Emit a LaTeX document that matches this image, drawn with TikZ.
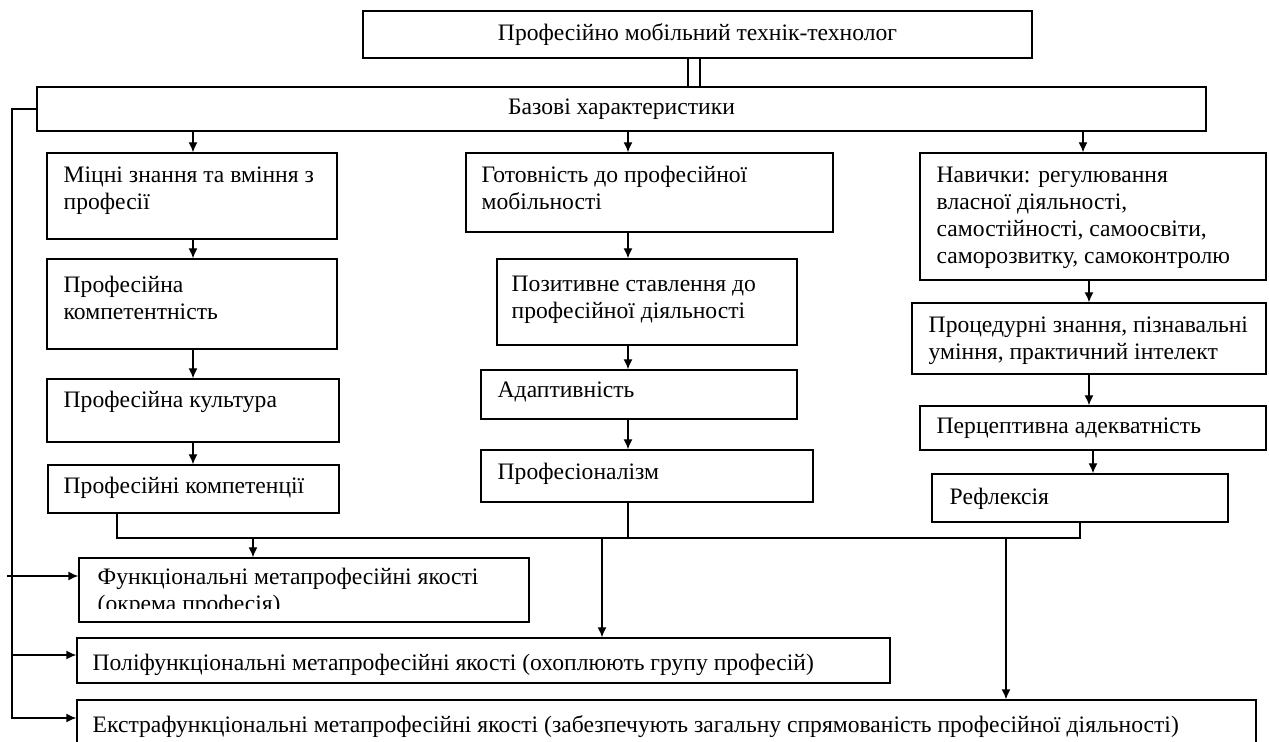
\documentclass[tikz,border=0pt]{standalone}
\usepackage{fontspec}
\setmainfont{Liberation Serif}
\usetikzlibrary{arrows.meta}
\begin{document}
\begin{tikzpicture}[x=0.5pt,y=-0.5pt,line width=0.7pt,
  font=\fontsize{11.8}{13.5}\selectfont,
  >={Latex[length=5pt,width=4.5pt]},
  box/.style={draw,rectangle,inner sep=0pt},
  txt/.style={anchor=base west,align=left,inner sep=0pt}]

\useasboundingbox[fill=white] (0,0) rectangle (1269,742);

\node[box,minimum width=334.5pt,minimum height=23.5pt] (top) at (697.5,34.5) {Професійно мобільний технік-технолог};
\node[box,minimum width=584.5pt,minimum height=22pt] (base) at (621.5,109) {Базові характеристики};

\draw [double,double distance=5.4pt] ([xshift=-1.75pt]top.south) -- ([xshift=-1.75pt]top.south |- base.north);

% first column
\node[box,minimum width=145pt,minimum height=43pt] (c1a) at (192,196) {};
\node[box,minimum width=145pt,minimum height=45pt] (c1b) at (192,304) {};
\node[box,minimum width=146pt,minimum height=31.5pt] (c1c) at (193,410.5) {};
\node[box,minimum width=145.5pt,minimum height=24pt] (c1d) at (193.5,489) {};

% (base of a text node = its last line)
\node[txt] (t1a) at (63,210) {Міцні знання та вміння з\\професії};
\node[txt] (t1b) at (63,320) {Професійна\\компетентність};
\node[txt] (t1c) at (63,408) {Професійна культура};
\node[txt] (t1d) at (63,494) {Професійні компетенції};

% second column
\node[box,minimum width=183.5pt,minimum height=39.5pt] (c2a) at (649.5,192.5) {};
\node[box,minimum width=150pt,minimum height=43pt] (c2b) at (647,302) {};
\node[box,minimum width=158pt,minimum height=24.5pt] (c2c) at (639,394.5) {};
\node[box,minimum width=166pt,minimum height=26pt] (c2d) at (647,476) {};

\node[txt] (t2a) at (481,210) {Готовність до професійної\\мобільності};
\node[txt] (t2b) at (511,319) {Позитивне ставлення до\\професійної діяльності};
\node[txt] (t2c) at (497,398) {Адаптивність};
\node[txt] (t2d) at (497,480) {Професіоналізм};

% third column
\node[box,minimum width=173pt,minimum height=63.5pt] (c3a) at (1093,216.5) {};
\node[box,minimum width=177pt,minimum height=35.5pt] (c3b) at (1089,338.5) {};
\node[box,minimum width=173pt,minimum height=22pt] (c3c) at (1093,428) {};
\node[box,minimum width=148pt,minimum height=24pt] (c3d) at (1080,498) {};

\node[txt] (t3a) at (936,264) {Навички: регулювання\\власної діяльності,\\самостійності, самоосвіти,\\саморозвитку, самоконтролю};
\node[txt] (t3b) at (928,360) {Процедурні знання, пізнавальні\\уміння, практичний інтелект};
\node[txt] (t3c) at (936,434) {Перцептивна адекватність};
\node[txt] (t3d) at (949,505) {Рефлексія};

% metaprofessional qualities
\node[box,minimum width=225pt,minimum height=32pt] (func) at (304,590) {};
\node[box,minimum width=406.5pt,minimum height=22.5pt] (poly) at (483.5,660.5) {};
\node[box,minimum width=589.5pt,minimum height=25pt] (extra) at (666.5,725) {};

\begin{scope}
\clip (79,558) rectangle (529,609);
\node[txt] (tfunc) at (97,612) {Функціональні метапрофесійні якості\\(окрема професія)};
\end{scope}
\node[txt] (tpoly) at (92,670) {Поліфункціональні метапрофесійні якості (охоплюють групу професій)};
\node[txt] (textra) at (92,732) {Екстрафункціональні метапрофесійні якості (забезпечують загальну спрямованість професійної діяльності)};

% arrows down the columns
\coordinate (colA) at (193,0);
\coordinate (colB) at (628,0);
\coordinate (colC) at (1083,0);
\coordinate (colC2) at (1089,0);
\coordinate (colC3) at (1093,0);

\path [->] (base.south -| colA) edge (c1a.north -| colA);
\path [->] (c1a.south -| colA) edge (c1b.north -| colA);
\path [->] (c1b.south -| colA) edge (c1c.north -| colA);
\path [->] (c1c.south -| colA) edge (c1d.north -| colA);

\path [->] (base.south -| colB) edge (c2a.north -| colB);
\path [->] (c2a.south -| colB) edge (c2b.north -| colB);
\path [->] (c2b.south -| colB) edge (c2c.north -| colB);
\path [->] (c2c.south -| colB) edge (c2d.north -| colB);

\path [->] (base.south -| colC) edge (c3a.north -| colC);
\path [->] (c3a.south -| colC2) edge (c3b.north -| colC2);
\path [->] (c3b.south -| colC2) edge (c3c.north -| colC2);
\path [->] (c3c.south -| colC3) edge (c3d.north -| colC3);

% collecting line
\coordinate (busL) at (117,538);
\draw (c1d.south -| busL) -- (busL) -- (busL -| c3d.south) -- (c3d.south);
\draw (c2d.south -| colB) -- (busL -| colB);

\coordinate (dropA) at (253,538);
\coordinate (dropB) at (602,538);
\coordinate (dropC) at (1006,538);
\path [->] (dropA) edge (dropA |- func.north);
\path [->] (dropB) edge (dropB |- poly.north);
\path [->] (dropC) edge (dropC |- extra.north);

% left rail
\coordinate (rail) at (12,718);
\coordinate (railA) at (7,576);
\coordinate (railB) at (12,655);
\draw [->] (base.west) -| (rail) -- (rail -| extra.west);
\path [->] (railA) edge (railA -| func.west);
\path [->] (railB) edge (railB -| poly.west);
\end{tikzpicture}
\end{document}
